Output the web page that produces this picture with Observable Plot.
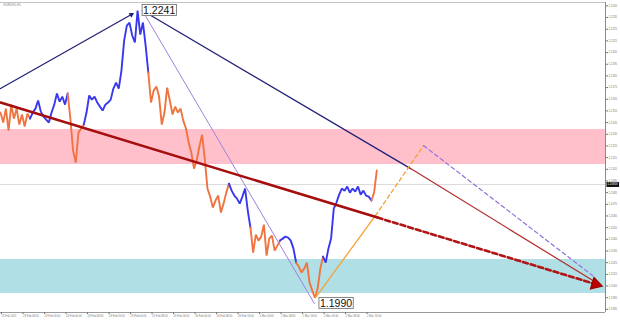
<!DOCTYPE html>
<html><head><meta charset="utf-8">
<script src="https://cdn.jsdelivr.net/npm/d3@7"></script>
<script src="https://cdn.jsdelivr.net/npm/@observablehq/plot@0.6"></script>
<style>
html,body{margin:0;padding:0;background:#fff;}
#chart svg{display:block;}
</style></head><body><div id="chart"></div>
<script>
// ---- price series (hourly closes, hour 0 = 23 Feb 00:00) ----
const closes = [
 1.21536,1.21450,1.21570,1.21382,1.21604,1.21484,1.21570,1.21433,1.21519,1.21416,1.21527,1.21484,
 1.21536,1.21570,1.21639,1.21544,1.21502,1.21476,1.21450,1.21536,1.21604,1.21699,1.21630,1.21673,1.21604,1.21699,
 1.21484,1.21210,1.21107,1.21364,1.21399,1.21433,
 1.21536,1.21682,1.21647,1.21673,1.21622,1.21587,1.21553,1.21604,1.21622,1.21647,1.21742,1.21793,
 1.21742,1.21896,1.22153,1.22281,1.22307,1.22196,1.22136,1.22410,1.22204,1.22307,1.22110,1.21879,
 1.21622,1.21724,1.21759,1.21673,1.21433,1.21536,1.21750,1.21639,1.21519,1.21587,1.21536,1.21570,1.21467,1.21399,1.21279,
 1.21193,1.21056,1.21125,1.21245,1.21347,1.21142,1.20885,1.20816,1.20722,1.20782,1.20825,1.20679,1.20756,1.20850,1.20927,
 1.20867,1.20825,1.20799,1.20756,1.20816,1.20885,1.20696,1.20550,
 1.20336,1.20490,1.20439,1.20473,1.20576,1.20310,1.20456,1.20482,1.20353,1.20396,1.20439,
 1.20456,1.20473,1.20465,1.20439,1.20370,1.20250,
 1.20216,1.20165,1.20199,1.20250,1.20079,1.20010,1.19950,1.20028,1.20199,1.20302,
 1.20250,1.20370,1.20456,1.20713,1.20765,1.20833,1.20885,1.20867,1.20902,1.20850,1.20885,1.20859,1.20902,1.20833,1.20867,1.20825,1.20816,1.20782,
 1.20850,1.21039
];
const waveStarts = [0, 11, 25, 31, 55, 85, 93, 104, 110, 120, 138];
const waveKinds  = ["down","up","down","up","down","up","down","up","down","up","down"];

// ---- zones ----
const sellZone = [1.21091, 1.21391];
const buyZone  = [1.19986, 1.20277];
const currentPrice = 1.20919;

// ---- wave / forecast lines  [hour, price] ----
const navyUp     = [[0, 1.21742], [48.7, 1.22376]];
const navyDown   = [[52.8, 1.22410], [152.6, 1.21056]];
const purpleDown = [[52.8, 1.22410], [116.8, 1.19899]];
const orangeUp   = [[117.2, 1.19950], [139.5, 1.20653]];
const orangeProj = [[139.5, 1.20653], [157.4, 1.21253]];
const purpleProj = [[157.4, 1.21253], [220.3, 1.20139]];
const redThin    = [[152.6, 1.21056], [221.0, 1.20088]];
const redTrend   = [[0, 1.21622], [140.3, 1.20636]];
const redProj    = [[140.3, 1.20636], [221.4, 1.20066]];

// ---- extreme labels ----
const extremeHours  = [52.5, 118.3];
const extremePrices = [1.2241, 1.1990];
const extremeTexts  = ["1.2241", "1.1990"];

// ---- axis ticks ----
const priceTicks = [1.1985,1.1995,1.2005,1.2015,1.2025,1.2035,1.2045,1.2055,1.2065,1.2075,1.2085,1.2095,
  1.2105,1.2115,1.2125,1.2135,1.2145,1.2155,1.2165,1.2175,1.2185,1.2195,1.2205,1.2215,1.2225,1.2235,1.2245];
const timeTicks = [0,8,16,24,32,40,48,56,64,72,80,88,96,104,112,120,128,136];
const timeLabels = ["23 Feb 2021","23 Feb 08:00","23 Feb 16:00","24 Feb 00:00","24 Feb 08:00","24 Feb 16:00",
  "25 Feb 00:00","25 Feb 08:00","25 Feb 16:00","26 Feb 00:00","26 Feb 08:00","26 Feb 16:00",
  "1 Mar 00:00","1 Mar 08:00","1 Mar 16:00","2 Mar 00:00","2 Mar 08:00","2 Mar 16:00"];
const chartTitle = "EURUSD,H1";

const xDomain = [0, 225.1];
const yDomain = [1.19823, 1.22479];
const width = 620, height = 323;
const mL = 0, mR = 15, mT = 2, mB = 11;

const colors = {up: "#3838ee", down: "#f07440"};

// build price rows with wave ids (boundary points shared)
const rows = [];
waveStarts.forEach((s, i) => {
  const e = i + 1 < waveStarts.length ? waveStarts[i + 1] : closes.length - 1;
  for (let h = s; h <= e; h++) rows.push({h, p: closes[h], wave: i, kind: waveKinds[i]});
});

// standalone scales to compute arrowhead rotation
const sx = Plot.scale({x: {domain: xDomain, range: [mL, width - mR]}});
const sy = Plot.scale({y: {domain: yDomain, range: [height - mB, mT]}});
function angleOf(seg) {
  const dx = sx.apply(seg[1][0]) - sx.apply(seg[0][0]);
  const dy = sy.apply(seg[1][1]) - sy.apply(seg[0][1]);
  return Math.atan2(dy, dx) * 180 / Math.PI + 90;
}

const seg = (data, opts) => Plot.line(data, {x: d => d[0], y: d => d[1], ...opts});
const curText = currentPrice.toFixed(5);

const chart = Plot.plot({
  width, height,
  marginLeft: mL, marginRight: mR, marginTop: mT, marginBottom: mB,
  x: {domain: xDomain, axis: null},
  y: {domain: yDomain, axis: null},
  style: {fontFamily: "'Liberation Sans', Arial, sans-serif", background: "#fff", overflow: "visible"},
  marks: [
    Plot.rect([sellZone], {x1: xDomain[0], x2: xDomain[1], y1: d => d[0], y2: d => d[1], fill: "#ffc0cb"}),
    Plot.rect([buyZone], {x1: xDomain[0], x2: xDomain[1], y1: d => d[0], y2: d => d[1], fill: "#b0e0e6"}),
    Plot.ruleY([currentPrice], {stroke: "#cfcfcf", strokeWidth: 0.8}),
    Plot.line(rows, {x: "h", y: "p", z: "wave", stroke: d => colors[d.kind], strokeWidth: 1.9, strokeLinejoin: "miter"}),
    seg(navyUp, {stroke: "#222277", strokeWidth: 1.3}),
    seg(navyDown, {stroke: "#222277", strokeWidth: 1.3}),
    seg(purpleDown, {stroke: "#9d82dc", strokeWidth: 1}),
    seg(orangeUp, {stroke: "#f6a233", strokeWidth: 1.3}),
    seg(orangeProj, {stroke: "#f6a233", strokeWidth: 1.3, strokeDasharray: "4,3"}),
    seg(purpleProj, {stroke: "#9370db", strokeWidth: 1.2, strokeDasharray: "4,3"}),
    seg(redThin, {stroke: "#b52a2a", strokeWidth: 1.2}),
    seg(redTrend, {stroke: "#a60e0e", strokeWidth: 2.6}),
    seg(redProj, {stroke: "#b01414", strokeWidth: 2.6, strokeDasharray: "5,3"}),
    Plot.dot([redProj[1]], {x: d => d[0], y: d => d[1], symbol: "triangle", r: 4.3, fill: "#c00000", stroke: "#a00000", rotate: angleOf(redProj)}),
    Plot.dot([navyUp[1]], {x: d => d[0], y: d => d[1], symbol: "triangle", r: 2, fill: "#222277", rotate: angleOf(navyUp)}),
    Plot.ruleX([xDomain[1]], {stroke: "#8a8a8a", strokeWidth: 1}),
    Plot.ruleY([yDomain[1]], {stroke: "#c4c4c4", strokeWidth: 1}),
    Plot.ruleY([yDomain[0]], {stroke: "#9a9a9a", strokeWidth: 1}),
    Plot.axisY({anchor: "right", ticks: priceTicks, tickFormat: d => d.toFixed(4), tickSize: 2, tickPadding: 1, fontSize: 2.8, color: "#777", label: null}),
    Plot.axisX({anchor: "bottom", ticks: timeTicks, tickFormat: d => timeLabels[timeTicks.indexOf(d)], tickSize: 2, tickPadding: 1, fontSize: 2.7, textAnchor: "start", dx: 1, color: "#777", label: null}),
    Plot.text(extremeTexts, {x: (d, i) => extremeHours[i], y: (d, i) => extremePrices[i], text: d => d, textAnchor: "start", dx: 1.5, fontSize: 10.5, fill: "#111"}),
    Plot.text([currentPrice], {x: () => xDomain[1], y: d => d, text: () => curText, textAnchor: "start", dx: 2, fontSize: 2.8, fill: "#fff"}),
    Plot.text([chartTitle], {frameAnchor: "top-left", text: d => d, dx: 3, dy: 1, fontSize: 3, fill: "#888"})
  ]
});

document.getElementById("chart").appendChild(chart);

// boxes behind labels (matched by their text); copy the text's transform
function boxify(texts, fill, stroke, padX, padY) {
  d3.select(chart).selectAll("text").filter(function () {
    return this.childElementCount === 0 && texts.includes(this.textContent);
  }).each(function () {
    const b = this.getBBox();
    const t = this.getAttribute("transform");
    const r = d3.select(this.parentNode).insert("rect", () => this)
      .attr("x", b.x - padX).attr("y", b.y - padY)
      .attr("width", b.width + 2 * padX).attr("height", b.height + 2 * padY)
      .attr("fill", fill).attr("stroke", stroke || "none").attr("stroke-width", stroke ? 0.8 : 0);
    if (t) r.attr("transform", t);
  });
}
boxify(extremeTexts, "#fff", "#666", 1, -0.5);
boxify([curText], "#111", null, 1, 0.5);
</script>
</body></html>
